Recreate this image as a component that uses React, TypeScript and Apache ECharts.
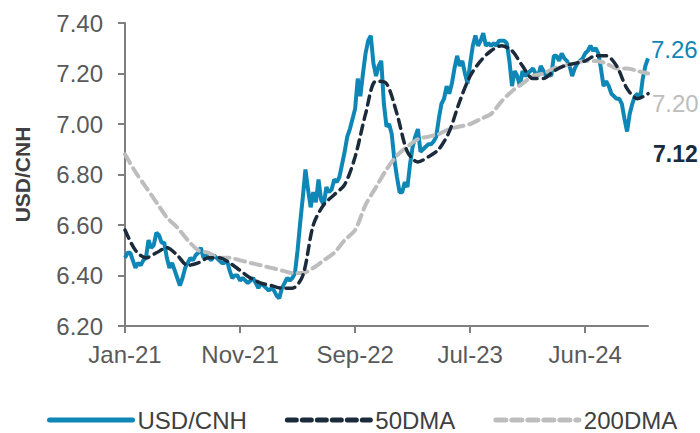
import React, { useEffect, useRef } from "react";
import * as echarts from "echarts";

// weekly observations, week 0 = first week of Jan-21
const usdCnh: number[] = [
  6.47, 6.49, 6.49, 6.46, 6.43, 6.45, 6.44, 6.46, 6.47, 6.54,
  6.51, 6.52, 6.57, 6.56, 6.53, 6.53, 6.47, 6.43, 6.45, 6.42,
  6.39, 6.36, 6.39, 6.43, 6.45, 6.47, 6.46, 6.48, 6.49, 6.51,
  6.47, 6.48, 6.47, 6.46, 6.48, 6.47, 6.46, 6.45, 6.45, 6.46,
  6.42, 6.39, 6.40, 6.40, 6.38, 6.39, 6.38, 6.37, 6.38, 6.39,
  6.37, 6.35, 6.37, 6.36, 6.35, 6.34, 6.35, 6.34, 6.32, 6.31,
  6.35, 6.37, 6.39, 6.38, 6.39, 6.41, 6.50, 6.61, 6.71, 6.82,
  6.74, 6.67, 6.73, 6.69, 6.78, 6.70, 6.68, 6.75, 6.73, 6.74,
  6.78, 6.77, 6.79, 6.84, 6.89, 6.95, 6.98, 7.02, 7.06, 7.18,
  7.11, 7.20, 7.28, 7.33, 7.35, 7.24, 7.19, 7.23, 7.25, 7.08,
  6.99, 7.00, 6.96, 6.86, 6.79, 6.73, 6.73, 6.77, 6.75, 6.84,
  6.91, 6.95, 6.98, 6.89, 6.90, 6.91, 6.92, 6.92, 6.93, 6.95,
  7.02, 7.08, 7.10, 7.15, 7.12, 7.16, 7.22, 7.27, 7.23, 7.25,
  7.20, 7.16, 7.24, 7.31, 7.35, 7.31, 7.33, 7.36, 7.31, 7.32,
  7.31, 7.32, 7.31, 7.33, 7.33, 7.33, 7.32, 7.25, 7.15, 7.21,
  7.19, 7.15, 7.21, 7.19, 7.20, 7.21, 7.22, 7.20, 7.19, 7.23,
  7.21, 7.19, 7.20, 7.19, 7.27, 7.27, 7.25, 7.28, 7.26, 7.25,
  7.23, 7.19, 7.22, 7.24, 7.25, 7.26, 7.28, 7.29, 7.31, 7.29,
  7.30, 7.28, 7.22, 7.15, 7.17, 7.15, 7.12, 7.11, 7.10, 7.10,
  7.08, 7.02, 6.97, 7.04, 7.08, 7.11, 7.12, 7.10, 7.18, 7.23,
  7.26,
];

// moving averages, one value every 4 weeks
const dmaStep = 4;
const dma50: number[] = [
  6.58, 6.50, 6.47, 6.49, 6.51, 6.48, 6.44, 6.45, 6.47, 6.47,
  6.45, 6.42, 6.39, 6.37, 6.36, 6.35, 6.35, 6.40, 6.60, 6.68,
  6.72, 6.76, 6.87, 7.04, 7.17, 7.16, 7.04, 6.89, 6.85, 6.87,
  6.90, 6.97, 7.09, 7.19, 7.25, 7.29, 7.31, 7.29, 7.23, 7.18,
  7.18, 7.21, 7.23, 7.24, 7.25, 7.27, 7.27, 7.23, 7.14, 7.10,
  7.12,
];
const dma200: number[] = [
  6.88, 6.81, 6.75, 6.69, 6.63, 6.59, 6.54, 6.50, 6.49, 6.47,
  6.47, 6.46, 6.45, 6.44, 6.43, 6.42, 6.41, 6.41, 6.43, 6.46,
  6.49, 6.54, 6.58, 6.68, 6.75, 6.82, 6.875, 6.91, 6.94, 6.95,
  6.96, 6.98, 6.99, 7.00, 7.02, 7.04, 7.09, 7.13, 7.16, 7.19,
  7.20, 7.22, 7.23, 7.24, 7.25, 7.25, 7.24, 7.22, 7.22, 7.21,
  7.20,
];

const xTickIndex: number[] = [0, 44, 88, 132, 176];
const xTickLabels: string[] = ["Jan-21", "Nov-21", "Sep-22", "Jul-23", "Jun-24"];

const FONT = "'Liberation Sans', Arial, sans-serif";
const BLUE = "#0f87b6";
const NAVY = "#1c2b3b";
const GREY = "#bdbdbd";
const AXIS = "#7f7f7f";

export default function App() {
  const ref = useRef<HTMLDivElement | null>(null);

  useEffect(() => {
    if (!ref.current) return;
    const chart = echarts.init(ref.current, undefined, { renderer: "svg" });
    const weeks = usdCnh.map((_, i) => String(i));
    const showTick = (idx: number) => xTickIndex.indexOf(idx) >= 0;
    const val = (p: any) => {
      const v = Array.isArray(p.value) ? p.value[1] : p.value;
      return Number(v).toFixed(2);
    };

    chart.setOption({
      animation: false,
      grid: { left: 125, right: 52, top: 23, bottom: 107, outerBoundsMode: "none" },
      legend: {
        data: ["USD/CNH", "50DMA", "200DMA"],
        left: 42,
        top: 402,
        itemWidth: 83,
        itemHeight: 14,
        itemGap: 38,
        itemStyle: { opacity: 0 },
        lineStyle: { width: 5, cap: "round" },
        textStyle: { fontSize: 24, color: "#404040", fontFamily: FONT, lineHeight: 26 },
      },
      xAxis: {
        type: "category",
        data: weeks,
        boundaryGap: false,
        axisLine: { lineStyle: { color: AXIS, width: 2 } },
        axisTick: { show: true, length: 7, interval: (i: number) => showTick(i), lineStyle: { color: AXIS, width: 2 } },
        axisLabel: {
          interval: (i: number) => showTick(i),
          formatter: (_v: string, i: number) => {
            const k = xTickIndex.indexOf(i);
            return k >= 0 ? xTickLabels[k] : "";
          },
          color: "#595959",
          fontSize: 24,
          fontFamily: FONT,
          margin: 16,
        },
        splitLine: { show: false },
      },
      yAxis: {
        type: "value",
        min: 6.2,
        max: 7.4,
        interval: 0.2,
        name: "USD/CNH",
        nameLocation: "middle",
        nameGap: 92,
        nameRotate: 90,
        nameTextStyle: { fontWeight: "bold", fontSize: 21, color: "#404040", fontFamily: FONT },
        axisLine: { show: true, lineStyle: { color: AXIS, width: 2 } },
        axisTick: { show: true, length: 7, lineStyle: { color: AXIS, width: 2 } },
        axisLabel: {
          formatter: (v: number) => v.toFixed(2),
          color: "#595959",
          fontSize: 24,
          fontFamily: FONT,
          margin: 22,
        },
        splitLine: { show: false },
      },
      series: [
        {
          name: "USD/CNH",
          type: "line",
          data: usdCnh,
          showSymbol: false,
          symbol: "none",
          lineStyle: { color: BLUE, width: 4 },
          itemStyle: { color: BLUE },
          endLabel: {
            show: true,
            formatter: val,
            color: BLUE,
            fontSize: 24,
            fontFamily: FONT,
            offset: [-5, -9],
          },
          z: 2,
        },
        {
          name: "50DMA",
          type: "line",
          data: dma50.map((v, i) => [i * dmaStep, v]),
          showSymbol: false,
          symbol: "none",
          smooth: 0.3,
          lineStyle: { color: NAVY, width: 3.5, type: [9, 6], cap: "round" },
          itemStyle: { color: NAVY },
          endLabel: {
            show: true,
            formatter: val,
            color: NAVY,
            fontSize: 23,
            fontWeight: "bold",
            fontFamily: FONT,
            offset: [-3, 60],
          },
          z: 4,
        },
        {
          name: "200DMA",
          type: "line",
          data: dma200.map((v, i) => [i * dmaStep, v]),
          showSymbol: false,
          symbol: "none",
          smooth: 0.3,
          lineStyle: { color: GREY, width: 4, type: [10, 6], cap: "round" },
          itemStyle: { color: GREY },
          endLabel: {
            show: true,
            formatter: val,
            color: GREY,
            fontSize: 24,
            fontFamily: FONT,
            offset: [-4, 30],
          },
          z: 3,
        },
      ],
    });

    return () => chart.dispose();
  }, []);

  return (
    <div
      ref={ref}
      style={{ position: "fixed", left: 0, top: 0, width: 700, height: 433, background: "#fff" }}
    />
  );
}
